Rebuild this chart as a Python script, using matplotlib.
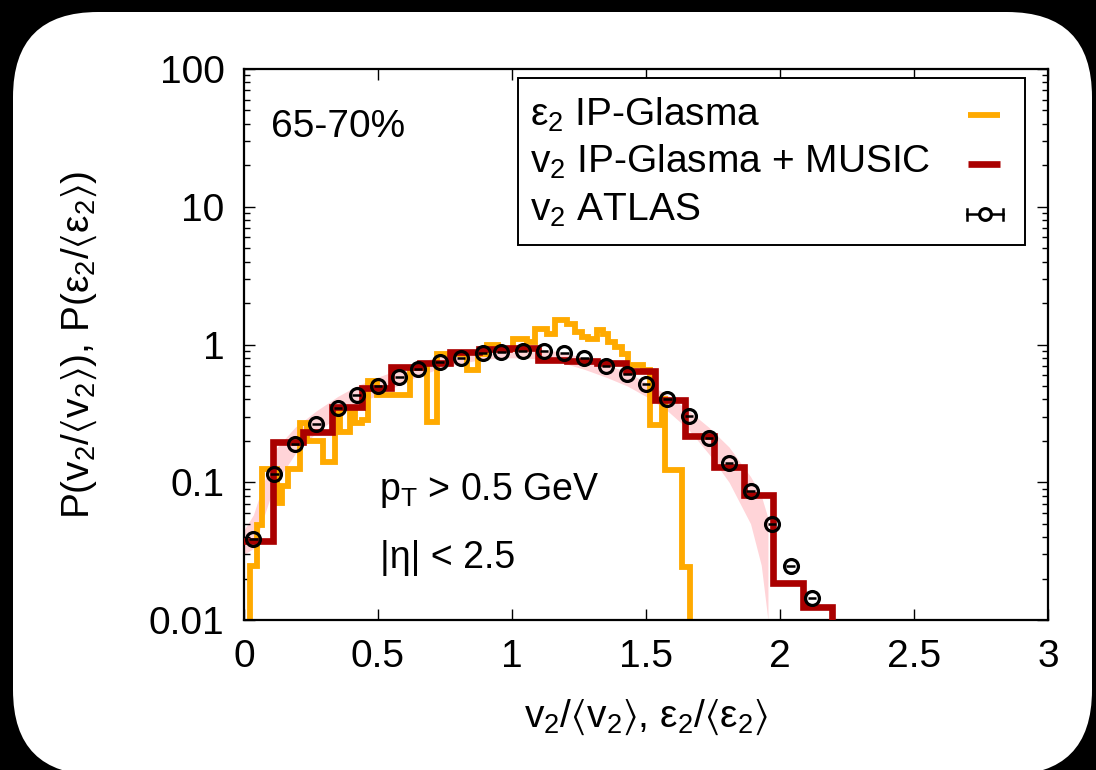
import numpy as np
import matplotlib
matplotlib.use('Agg')
import matplotlib.pyplot as plt
from matplotlib.patches import FancyBboxPatch, Rectangle
from matplotlib.lines import Line2D
from matplotlib.ticker import LogLocator, NullFormatter, FixedLocator, FixedFormatter

plt.rcParams['font.family'] = ['Liberation Sans', 'DejaVu Sans']
plt.rcParams['mathtext.fontset'] = 'custom'
plt.rcParams['mathtext.rm'] = 'Liberation Sans'
plt.rcParams['mathtext.it'] = 'Liberation Sans'
plt.rcParams['mathtext.bf'] = 'Liberation Sans'
plt.rcParams['mathtext.sf'] = 'Liberation Sans'

# ---------------- data ----------------
atlas_x = [0.035, 0.113, 0.19, 0.27, 0.35, 0.42, 0.50, 0.58, 0.65, 0.73, 0.81, 0.89, 0.96, 1.04,
           1.12, 1.195, 1.27, 1.35, 1.43, 1.50, 1.58, 1.66, 1.735, 1.81, 1.89, 1.97, 2.04, 2.12]
atlas_y = [0.0385, 0.115, 0.19, 0.265, 0.348, 0.43, 0.50, 0.578, 0.66, 0.743, 0.794, 0.863, 0.877, 0.897,
           0.90, 0.863, 0.794, 0.70, 0.614, 0.517, 0.40, 0.304, 0.211, 0.137, 0.086, 0.0498, 0.0248, 0.0145]
atlas_xerr = 0.016

band_x = [0.0, 0.035, 0.113, 0.19, 0.27, 0.35, 0.42, 0.50, 0.58, 0.65, 0.73, 0.81, 0.89, 0.96, 1.04,
          1.12, 1.195, 1.27, 1.35, 1.43, 1.50, 1.58, 1.66, 1.735, 1.81, 1.89, 1.93, 1.955]
band_hi = [0.045, 0.058, 0.17, 0.25, 0.33, 0.42, 0.50, 0.58, 0.66, 0.74, 0.82, 0.88, 0.92, 0.94, 0.94,
           0.92, 0.87, 0.80, 0.72, 0.63, 0.53, 0.43, 0.33, 0.25, 0.18, 0.11, 0.08, 0.055]
band_lo = [0.03, 0.033, 0.095, 0.16, 0.23, 0.30, 0.37, 0.43, 0.51, 0.59, 0.67, 0.73, 0.78, 0.80, 0.80,
           0.78, 0.73, 0.66, 0.58, 0.50, 0.42, 0.33, 0.24, 0.16, 0.10, 0.05, 0.025, 0.01]

music_edges = [0.0, 0.110, 0.219, 0.329, 0.439, 0.548, 0.658, 0.768, 0.877, 0.987, 1.097,
               1.206, 1.316, 1.426, 1.535, 1.645, 1.755, 1.864, 1.974, 2.084, 2.193]
music_vals = [0.0373, 0.197, 0.233, 0.354, 0.481, 0.69, 0.738, 0.887, 0.923, 0.948,
              0.77, 0.765, 0.73, 0.645, 0.396, 0.217, 0.130, 0.0807, 0.0185, 0.0124]

glasma_edges = [0.022, 0.047, 0.066, 0.122, 0.140, 0.165, 0.209, 0.234, 0.296, 0.340, 0.358,
                0.396, 0.414, 0.439, 0.464, 0.495, 0.619, 0.682, 0.719, 0.769, 0.831, 0.874,
                0.905, 0.949, 1.005, 1.055, 1.086, 1.129, 1.160, 1.204, 1.235, 1.260, 1.285,
                1.316, 1.340, 1.360, 1.384, 1.409, 1.434, 1.490, 1.515, 1.560, 1.572, 1.634, 1.664]
glasma_vals = [0.0245, 0.049, 0.124, 0.0707, 0.0934, 0.124, 0.268, 0.20, 0.140, 0.316, 0.233,
               0.316, 0.268, 0.283, 0.54, 0.43, 0.68, 0.275, 0.85, 0.86, 0.653, 0.85,
               1.0, 0.93, 1.10, 1.05, 1.29, 1.20, 1.506, 1.40, 1.24, 1.14, 1.10,
               1.27, 1.20, 1.05, 0.96, 0.86, 0.71, 0.65, 0.26, 0.40, 0.123, 0.0241]

x_ticks = [0, 0.5, 1, 1.5, 2, 2.5, 3]
x_ticklabels = ['0', '0.5', '1', '1.5', '2', '2.5', '3']
y_ticks = [0.01, 0.1, 1, 10, 100]
y_ticklabels = ['0.01', '0.1', '1', '10', '100']

ORANGE = '#ffaa00'
RED = '#aa0000'
PINK = '#ffd4d8'
FS = 28

# ---------------- figure ----------------
W, H = 1096, 770
fig = plt.figure(figsize=(W / 100, H / 100), dpi=100)
fig.patch.set_facecolor('black')
bg = FancyBboxPatch((0.13, -0.05), 10.79, 7.63,
                    boxstyle='round,pad=0,rounding_size=0.85',
                    transform=fig.dpi_scale_trans, facecolor='white', edgecolor='none', zorder=0)
fig.add_artist(bg)

L, R, T, B = 244, 1048, 69, 620
ax = fig.add_axes([L / W, 1 - B / H, (R - L) / W, (B - T) / H])
ax.set_facecolor('white')
ax.set_zorder(1)

ax.fill_between(band_x, band_lo, band_hi, color=PINK, lw=0, zorder=1)

# epsilon_2 IP-Glasma histogram
ax.stairs(glasma_vals, glasma_edges, baseline=1e-4, color=ORANGE, lw=4.2, zorder=2)

# v2 IP-Glasma + MUSIC histogram (no left vertical edge at x=0)
mx = np.asarray(music_edges)
mv = np.asarray(music_vals)
sx = np.concatenate([np.repeat(mx, 2)[1:-1], [mx[-1]]])
sy = np.concatenate([np.repeat(mv, 2), [1e-4]])
ax.plot(sx, sy, color=RED, lw=4.8, solid_joinstyle='miter', zorder=3)

# ATLAS points
ax.errorbar(atlas_x, atlas_y, xerr=atlas_xerr, fmt='o', ms=10, mfc='none', mec='black',
            mew=2.3, ecolor='black', elinewidth=1.8, capsize=0, zorder=4)

ax.set_yscale('log')
ax.set_xlim(0, 3)
ax.set_ylim(0.01, 100)
ax.xaxis.set_major_locator(FixedLocator(x_ticks))
ax.xaxis.set_major_formatter(FixedFormatter(x_ticklabels))
ax.yaxis.set_major_locator(FixedLocator(y_ticks))
ax.yaxis.set_major_formatter(FixedFormatter(y_ticklabels))
ax.yaxis.set_minor_locator(LogLocator(base=10, subs=np.arange(2, 10)))
ax.yaxis.set_minor_formatter(NullFormatter())
ax.xaxis.set_minor_locator(FixedLocator([]))
ax.tick_params(which='both', direction='in', top=True, right=True, width=1.0)
ax.tick_params(which='major', length=8, labelsize=FS, pad=14)
ax.tick_params(which='minor', length=4.5)
for s in ax.spines.values():
    s.set_linewidth(1.6)

ax.set_xlabel(r'$\mathregular{v_2/\langle v_2\rangle}$, $\mathregular{ε_2/\langle ε_2\rangle}$',
              fontsize=FS, labelpad=16)
ax.set_ylabel(r'P($\mathregular{v_2/\langle v_2\rangle}$), P($\mathregular{ε_2/\langle ε_2\rangle}$)',
              fontsize=FS, labelpad=36)

# annotations
ax.text(0.034, 0.8766, '65-70%', transform=ax.transAxes, fontsize=FS, va='baseline', ha='left')
ax.text(0.168, 0.2178, r'$\mathregular{p_T}$ > 0.5 GeV', transform=ax.transAxes, fontsize=27,
        va='baseline', ha='left')
ax.text(0.169, 0.0944, '|η| < 2.5', transform=ax.transAxes, fontsize=27, va='baseline', ha='left')

# legend (gnuplot style: text left, sample right)
ax.add_patch(Rectangle((0.341, 0.6806), 0.630, 0.3031, transform=ax.transAxes,
                       facecolor='white', edgecolor='black', lw=1.4, zorder=6))
labels = [r'$\mathregular{ε_2}$ IP-Glasma', r'$\mathregular{v_2}$ IP-Glasma + MUSIC',
          r'$\mathregular{v_2}$ ATLAS']
base_y = [0.898, 0.811, 0.724]
for lab, yb in zip(labels, base_y):
    ax.text(0.356, yb, lab, transform=ax.transAxes, fontsize=FS, va='baseline', ha='left', zorder=7)
ax.add_line(Line2D([0.9005, 0.9403], [0.9165, 0.9165], transform=ax.transAxes, color=ORANGE,
                   lw=4.2, zorder=7, solid_capstyle='butt'))
ax.add_line(Line2D([0.9005, 0.9403], [0.8276, 0.8276], transform=ax.transAxes, color=RED,
                   lw=4.8, zorder=7, solid_capstyle='butt'))
ax.add_line(Line2D([0.899, 0.944], [0.7368, 0.7368], transform=ax.transAxes, color='black',
                   lw=1.8, zorder=7))
for xc in (0.899, 0.944):
    ax.add_line(Line2D([xc, xc], [0.7268, 0.7468], transform=ax.transAxes, color='black',
                       lw=1.8, zorder=7))
ax.add_line(Line2D([0.9216], [0.7368], transform=ax.transAxes, marker='o', ms=8.5, mfc='white',
                   mec='black', mew=2.2, zorder=8))

fig.savefig('out.png', dpi=100, facecolor=fig.get_facecolor())
